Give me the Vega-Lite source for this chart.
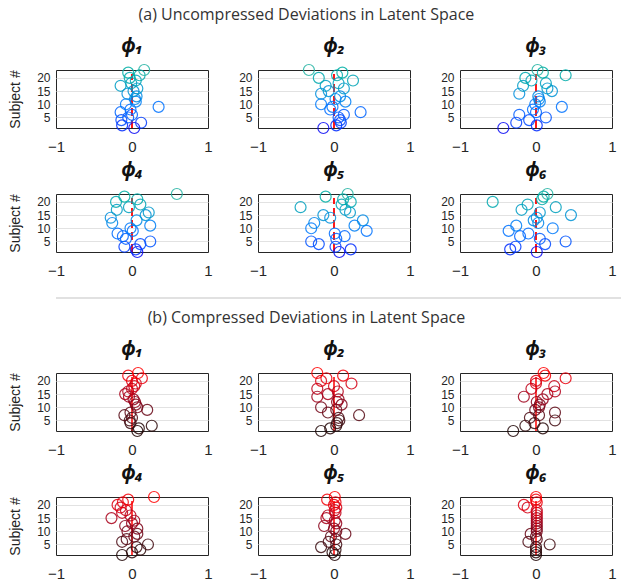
{
"$schema":"https://vega.github.io/schema/vega-lite/v6.json",
"background":"white",
"padding":{"left":8,"top":6,"right":0,"bottom":0},
"datasets":{"d":[
{"p":"a1","s":1,"x":0.03},{"p":"a1","s":2,"x":-0.13},{"p":"a1","s":3,"x":0.12},{"p":"a1","s":4,"x":-0.14},{"p":"a1","s":5,"x":-0.05},{"p":"a1","s":6,"x":0.0},{"p":"a1","s":7,"x":-0.15},{"p":"a1","s":8,"x":-0.02},{"p":"a1","s":9,"x":0.35},{"p":"a1","s":10,"x":-0.08},{"p":"a1","s":11,"x":0.05},{"p":"a1","s":12,"x":0.04},{"p":"a1","s":13,"x":0.06},{"p":"a1","s":14,"x":-0.06},{"p":"a1","s":15,"x":0.02},{"p":"a1","s":16,"x":0.07},{"p":"a1","s":17,"x":-0.15},{"p":"a1","s":18,"x":-0.01},{"p":"a1","s":19,"x":0.05},{"p":"a1","s":20,"x":-0.03},{"p":"a1","s":21,"x":0.10},{"p":"a1","s":22,"x":-0.05},{"p":"a1","s":23,"x":0.16},
{"p":"a2","s":1,"x":-0.14},{"p":"a2","s":2,"x":0.03},{"p":"a2","s":3,"x":0.09},{"p":"a2","s":4,"x":0.08},{"p":"a2","s":5,"x":0.06},{"p":"a2","s":6,"x":0.13},{"p":"a2","s":7,"x":0.35},{"p":"a2","s":8,"x":-0.05},{"p":"a2","s":9,"x":-0.02},{"p":"a2","s":10,"x":-0.17},{"p":"a2","s":11,"x":0.15},{"p":"a2","s":12,"x":0.02},{"p":"a2","s":13,"x":0.08},{"p":"a2","s":14,"x":-0.17},{"p":"a2","s":15,"x":-0.07},{"p":"a2","s":16,"x":0.13},{"p":"a2","s":17,"x":-0.11},{"p":"a2","s":18,"x":0.06},{"p":"a2","s":19,"x":0.25},{"p":"a2","s":20,"x":-0.2},{"p":"a2","s":21,"x":0.04},{"p":"a2","s":22,"x":0.11},{"p":"a2","s":23,"x":-0.33},
{"p":"a3","s":1,"x":-0.43},{"p":"a3","s":2,"x":0.01},{"p":"a3","s":3,"x":-0.26},{"p":"a3","s":4,"x":-0.09},{"p":"a3","s":5,"x":0.13},{"p":"a3","s":6,"x":-0.22},{"p":"a3","s":7,"x":0.0},{"p":"a3","s":8,"x":-0.04},{"p":"a3","s":9,"x":0.34},{"p":"a3","s":10,"x":-0.01},{"p":"a3","s":11,"x":0.05},{"p":"a3","s":12,"x":0.04},{"p":"a3","s":13,"x":0.03},{"p":"a3","s":14,"x":-0.22},{"p":"a3","s":15,"x":0.21},{"p":"a3","s":16,"x":0.15},{"p":"a3","s":17,"x":-0.17},{"p":"a3","s":18,"x":0.13},{"p":"a3","s":19,"x":-0.06},{"p":"a3","s":20,"x":-0.14},{"p":"a3","s":21,"x":0.39},{"p":"a3","s":22,"x":0.09},{"p":"a3","s":23,"x":0.02},
{"p":"a4","s":1,"x":0.07},{"p":"a4","s":2,"x":0.05},{"p":"a4","s":3,"x":-0.1},{"p":"a4","s":4,"x":0.11},{"p":"a4","s":5,"x":0.24},{"p":"a4","s":6,"x":-0.08},{"p":"a4","s":7,"x":-0.12},{"p":"a4","s":8,"x":-0.19},{"p":"a4","s":9,"x":0.01},{"p":"a4","s":10,"x":-0.02},{"p":"a4","s":11,"x":0.24},{"p":"a4","s":12,"x":-0.26},{"p":"a4","s":13,"x":0.06},{"p":"a4","s":14,"x":-0.28},{"p":"a4","s":15,"x":0.18},{"p":"a4","s":16,"x":0.22},{"p":"a4","s":17,"x":-0.2},{"p":"a4","s":18,"x":-0.04},{"p":"a4","s":19,"x":0.11},{"p":"a4","s":20,"x":-0.21},{"p":"a4","s":21,"x":0.07},{"p":"a4","s":22,"x":-0.1},{"p":"a4","s":23,"x":0.59},
{"p":"a5","s":1,"x":0.07},{"p":"a5","s":2,"x":0.22},{"p":"a5","s":3,"x":0.02},{"p":"a5","s":4,"x":-0.2},{"p":"a5","s":5,"x":-0.3},{"p":"a5","s":6,"x":0.03},{"p":"a5","s":7,"x":0.14},{"p":"a5","s":8,"x":0.01},{"p":"a5","s":9,"x":0.43},{"p":"a5","s":10,"x":-0.3},{"p":"a5","s":11,"x":0.27},{"p":"a5","s":12,"x":-0.26},{"p":"a5","s":13,"x":0.38},{"p":"a5","s":14,"x":-0.05},{"p":"a5","s":15,"x":-0.14},{"p":"a5","s":16,"x":0.21},{"p":"a5","s":17,"x":0.15},{"p":"a5","s":18,"x":-0.44},{"p":"a5","s":19,"x":0.1},{"p":"a5","s":20,"x":0.22},{"p":"a5","s":21,"x":0.12},{"p":"a5","s":22,"x":-0.11},{"p":"a5","s":23,"x":0.18},
{"p":"a6","s":1,"x":0.01},{"p":"a6","s":2,"x":-0.34},{"p":"a6","s":3,"x":-0.27},{"p":"a6","s":4,"x":0.12},{"p":"a6","s":5,"x":0.39},{"p":"a6","s":6,"x":0.05},{"p":"a6","s":7,"x":-0.21},{"p":"a6","s":8,"x":-0.1},{"p":"a6","s":9,"x":-0.36},{"p":"a6","s":10,"x":0.22},{"p":"a6","s":11,"x":-0.26},{"p":"a6","s":12,"x":0.03},{"p":"a6","s":13,"x":-0.03},{"p":"a6","s":14,"x":0.01},{"p":"a6","s":15,"x":0.46},{"p":"a6","s":16,"x":0.05},{"p":"a6","s":17,"x":-0.19},{"p":"a6","s":18,"x":0.26},{"p":"a6","s":19,"x":-0.11},{"p":"a6","s":20,"x":-0.57},{"p":"a6","s":21,"x":0.08},{"p":"a6","s":22,"x":0.1},{"p":"a6","s":23,"x":0.15},
{"p":"b1","s":1,"x":0.07},{"p":"b1","s":2,"x":0.09},{"p":"b1","s":3,"x":0.26},{"p":"b1","s":4,"x":-0.02},{"p":"b1","s":5,"x":-0.03},{"p":"b1","s":6,"x":0.0},{"p":"b1","s":7,"x":-0.1},{"p":"b1","s":8,"x":-0.02},{"p":"b1","s":9,"x":0.2},{"p":"b1","s":10,"x":0.07},{"p":"b1","s":11,"x":0.05},{"p":"b1","s":12,"x":0.04},{"p":"b1","s":13,"x":0.02},{"p":"b1","s":14,"x":-0.04},{"p":"b1","s":15,"x":-0.09},{"p":"b1","s":16,"x":-0.05},{"p":"b1","s":17,"x":0.0},{"p":"b1","s":18,"x":0.03},{"p":"b1","s":19,"x":0.05},{"p":"b1","s":20,"x":0.0},{"p":"b1","s":21,"x":0.13},{"p":"b1","s":22,"x":-0.05},{"p":"b1","s":23,"x":0.08},
{"p":"b2","s":1,"x":-0.17},{"p":"b2","s":2,"x":-0.05},{"p":"b2","s":3,"x":0.03},{"p":"b2","s":4,"x":0.04},{"p":"b2","s":5,"x":0.07},{"p":"b2","s":6,"x":0.06},{"p":"b2","s":7,"x":0.33},{"p":"b2","s":8,"x":-0.08},{"p":"b2","s":9,"x":0.03},{"p":"b2","s":10,"x":-0.17},{"p":"b2","s":11,"x":0.1},{"p":"b2","s":12,"x":0.04},{"p":"b2","s":13,"x":0.06},{"p":"b2","s":14,"x":-0.22},{"p":"b2","s":15,"x":-0.08},{"p":"b2","s":16,"x":0.05},{"p":"b2","s":17,"x":-0.22},{"p":"b2","s":18,"x":0.0},{"p":"b2","s":19,"x":0.23},{"p":"b2","s":20,"x":-0.17},{"p":"b2","s":21,"x":-0.1},{"p":"b2","s":22,"x":0.12},{"p":"b2","s":23,"x":-0.22},
{"p":"b3","s":1,"x":-0.3},{"p":"b3","s":2,"x":0.09},{"p":"b3","s":3,"x":-0.14},{"p":"b3","s":4,"x":-0.02},{"p":"b3","s":5,"x":0.25},{"p":"b3","s":6,"x":-0.08},{"p":"b3","s":7,"x":0.04},{"p":"b3","s":8,"x":0.25},{"p":"b3","s":9,"x":-0.01},{"p":"b3","s":10,"x":0.04},{"p":"b3","s":11,"x":0.05},{"p":"b3","s":12,"x":0.01},{"p":"b3","s":13,"x":0.09},{"p":"b3","s":14,"x":-0.16},{"p":"b3","s":15,"x":0.15},{"p":"b3","s":16,"x":0.25},{"p":"b3","s":17,"x":-0.06},{"p":"b3","s":18,"x":0.24},{"p":"b3","s":19,"x":0.0},{"p":"b3","s":20,"x":0.0},{"p":"b3","s":21,"x":0.39},{"p":"b3","s":22,"x":0.12},{"p":"b3","s":23,"x":0.1},
{"p":"b4","s":1,"x":-0.13},{"p":"b4","s":2,"x":0.0},{"p":"b4","s":3,"x":0.11},{"p":"b4","s":4,"x":0.06},{"p":"b4","s":5,"x":0.21},{"p":"b4","s":6,"x":-0.13},{"p":"b4","s":7,"x":-0.07},{"p":"b4","s":8,"x":0.03},{"p":"b4","s":9,"x":0.07},{"p":"b4","s":10,"x":-0.06},{"p":"b4","s":11,"x":0.07},{"p":"b4","s":12,"x":-0.09},{"p":"b4","s":13,"x":0.0},{"p":"b4","s":14,"x":0.03},{"p":"b4","s":15,"x":-0.27},{"p":"b4","s":16,"x":-0.02},{"p":"b4","s":17,"x":-0.13},{"p":"b4","s":18,"x":-0.08},{"p":"b4","s":19,"x":-0.15},{"p":"b4","s":20,"x":-0.19},{"p":"b4","s":21,"x":-0.12},{"p":"b4","s":22,"x":-0.05},{"p":"b4","s":23,"x":0.29},
{"p":"b5","s":1,"x":0.01},{"p":"b5","s":2,"x":-0.02},{"p":"b5","s":3,"x":0.02},{"p":"b5","s":4,"x":-0.17},{"p":"b5","s":5,"x":0.03},{"p":"b5","s":6,"x":-0.07},{"p":"b5","s":7,"x":0.02},{"p":"b5","s":8,"x":-0.04},{"p":"b5","s":9,"x":0.15},{"p":"b5","s":10,"x":0.03},{"p":"b5","s":11,"x":0.0},{"p":"b5","s":12,"x":-0.13},{"p":"b5","s":13,"x":0.03},{"p":"b5","s":14,"x":0.01},{"p":"b5","s":15,"x":-0.1},{"p":"b5","s":16,"x":-0.08},{"p":"b5","s":17,"x":0.02},{"p":"b5","s":18,"x":0.01},{"p":"b5","s":19,"x":0.03},{"p":"b5","s":20,"x":0.0},{"p":"b5","s":21,"x":0.02},{"p":"b5","s":22,"x":-0.09},{"p":"b5","s":23,"x":0.01},
{"p":"b6","s":1,"x":0.0},{"p":"b6","s":2,"x":0.0},{"p":"b6","s":3,"x":0.0},{"p":"b6","s":4,"x":0.0},{"p":"b6","s":5,"x":0.18},{"p":"b6","s":6,"x":-0.1},{"p":"b6","s":7,"x":0.01},{"p":"b6","s":8,"x":0.0},{"p":"b6","s":9,"x":-0.07},{"p":"b6","s":10,"x":0.01},{"p":"b6","s":11,"x":0.01},{"p":"b6","s":12,"x":0.01},{"p":"b6","s":13,"x":0.01},{"p":"b6","s":14,"x":0.01},{"p":"b6","s":15,"x":0.01},{"p":"b6","s":16,"x":0.01},{"p":"b6","s":17,"x":0.01},{"p":"b6","s":18,"x":0.01},{"p":"b6","s":19,"x":-0.11},{"p":"b6","s":20,"x":-0.16},{"p":"b6","s":21,"x":0.01},{"p":"b6","s":22,"x":0.0},{"p":"b6","s":23,"x":0.0}
]},
"data":{"name":"d"},
"config":{
 "view":{"stroke":"#262626","strokeWidth":1},
 "font":"Liberation Sans",
 "axis":{"labelFont":"Liberation Sans","labelColor":"#262626","ticks":false,"domain":false,"labelFlush":false,"labelOverlap":false,"titleFont":"Liberation Sans","titleFontSize":14,"titleFontWeight":"normal","titleColor":"#222222"},
 "axisX":{"grid":false,"labelPadding":11,"labelFontSize":15},
 "axisY":{"grid":true,"gridColor":"#e2e2e2","labelPadding":6,"titlePadding":14,"labelFontSize":12},
 "title":{"font":"Noto Sans","fontSize":19,"fontWeight":"bold","fontStyle":"italic","color":"#111111","offset":6}
},
"resolve":{"scale":{"color":"independent"}},
"spacing":10,
"vconcat":[
 {"title":{"text":"(a) Uncompressed Deviations in Latent Space","font":"Open Sans","fontSize":16,"fontWeight":"normal","fontStyle":"normal","color":"#333333","anchor":"middle","offset":14,"dx":-6},
  "columns":3,"bounds":"flush","spacing":{"row":66,"column":50},
  "concat":[
   {"width":152,"height":58,"title":"ϕ₁","transform":[{"filter":"datum.p==='a1'"}],"layer":[
     {"transform":[{"filter":"datum.s===1"}],"mark":{"type":"rule","color":"#ff0000","strokeWidth":1.8,"strokeDash":[8,4]},"encoding":{"x":{"datum":0,"type":"quantitative","axis":{"values":[-1,0,1],"format":".0f","title":null}},"y":{"datum":1,"type":"quantitative","axis":{"values":[5,10,15,20],"format":".0f","title":"Subject #"}},"y2":{"datum":21.5}}},
     {"mark":{"type":"point","filled":false,"size":120,"strokeWidth":1.2,"opacity":0.85},"encoding":{"x":{"field":"x","type":"quantitative","scale":{"domain":[-1,1],"nice":false,"zero":false},"axis":{"values":[-1,0,1],"format":".0f","title":null}},"y":{"field":"s","type":"quantitative","scale":{"domain":[1,23],"nice":false,"zero":false},"axis":{"values":[5,10,15,20],"format":".0f","title":"Subject #"}},"color":{"field":"s","type":"quantitative","scale":{"domain":[1,23],"range":["#0808f5","#22b3a3"]},"legend":null}}}]},
   {"width":152,"height":58,"title":"ϕ₂","transform":[{"filter":"datum.p==='a2'"}],"layer":[
     {"transform":[{"filter":"datum.s===1"}],"mark":{"type":"rule","color":"#ff0000","strokeWidth":1.8,"strokeDash":[8,4]},"encoding":{"x":{"datum":0,"type":"quantitative","axis":{"values":[-1,0,1],"format":".0f","title":null}},"y":{"datum":1,"type":"quantitative","axis":{"values":[5,10,15,20],"format":".0f","title":null}},"y2":{"datum":21.5}}},
     {"mark":{"type":"point","filled":false,"size":120,"strokeWidth":1.2,"opacity":0.85},"encoding":{"x":{"field":"x","type":"quantitative","scale":{"domain":[-1,1],"nice":false,"zero":false},"axis":{"values":[-1,0,1],"format":".0f","title":null}},"y":{"field":"s","type":"quantitative","scale":{"domain":[1,23],"nice":false,"zero":false},"axis":{"values":[5,10,15,20],"format":".0f","title":null}},"color":{"field":"s","type":"quantitative","scale":{"domain":[1,23],"range":["#0808f5","#22b3a3"]},"legend":null}}}]},
   {"width":152,"height":58,"title":"ϕ₃","transform":[{"filter":"datum.p==='a3'"}],"layer":[
     {"transform":[{"filter":"datum.s===1"}],"mark":{"type":"rule","color":"#ff0000","strokeWidth":1.8,"strokeDash":[8,4]},"encoding":{"x":{"datum":0,"type":"quantitative","axis":{"values":[-1,0,1],"format":".0f","title":null}},"y":{"datum":1,"type":"quantitative","axis":{"values":[5,10,15,20],"format":".0f","title":null}},"y2":{"datum":21.5}}},
     {"mark":{"type":"point","filled":false,"size":120,"strokeWidth":1.2,"opacity":0.85},"encoding":{"x":{"field":"x","type":"quantitative","scale":{"domain":[-1,1],"nice":false,"zero":false},"axis":{"values":[-1,0,1],"format":".0f","title":null}},"y":{"field":"s","type":"quantitative","scale":{"domain":[1,23],"nice":false,"zero":false},"axis":{"values":[5,10,15,20],"format":".0f","title":null}},"color":{"field":"s","type":"quantitative","scale":{"domain":[1,23],"range":["#0808f5","#22b3a3"]},"legend":null}}}]},
   {"width":152,"height":58,"title":"ϕ₄","transform":[{"filter":"datum.p==='a4'"}],"layer":[
     {"transform":[{"filter":"datum.s===1"}],"mark":{"type":"rule","color":"#ff0000","strokeWidth":1.8,"strokeDash":[8,4]},"encoding":{"x":{"datum":0,"type":"quantitative","axis":{"values":[-1,0,1],"format":".0f","title":null}},"y":{"datum":1,"type":"quantitative","axis":{"values":[5,10,15,20],"format":".0f","title":"Subject #"}},"y2":{"datum":21.5}}},
     {"mark":{"type":"point","filled":false,"size":120,"strokeWidth":1.2,"opacity":0.85},"encoding":{"x":{"field":"x","type":"quantitative","scale":{"domain":[-1,1],"nice":false,"zero":false},"axis":{"values":[-1,0,1],"format":".0f","title":null}},"y":{"field":"s","type":"quantitative","scale":{"domain":[1,23],"nice":false,"zero":false},"axis":{"values":[5,10,15,20],"format":".0f","title":"Subject #"}},"color":{"field":"s","type":"quantitative","scale":{"domain":[1,23],"range":["#0808f5","#22b3a3"]},"legend":null}}}]},
   {"width":152,"height":58,"title":"ϕ₅","transform":[{"filter":"datum.p==='a5'"}],"layer":[
     {"transform":[{"filter":"datum.s===1"}],"mark":{"type":"rule","color":"#ff0000","strokeWidth":1.8,"strokeDash":[8,4]},"encoding":{"x":{"datum":0,"type":"quantitative","axis":{"values":[-1,0,1],"format":".0f","title":null}},"y":{"datum":1,"type":"quantitative","axis":{"values":[5,10,15,20],"format":".0f","title":null}},"y2":{"datum":21.5}}},
     {"mark":{"type":"point","filled":false,"size":120,"strokeWidth":1.2,"opacity":0.85},"encoding":{"x":{"field":"x","type":"quantitative","scale":{"domain":[-1,1],"nice":false,"zero":false},"axis":{"values":[-1,0,1],"format":".0f","title":null}},"y":{"field":"s","type":"quantitative","scale":{"domain":[1,23],"nice":false,"zero":false},"axis":{"values":[5,10,15,20],"format":".0f","title":null}},"color":{"field":"s","type":"quantitative","scale":{"domain":[1,23],"range":["#0808f5","#22b3a3"]},"legend":null}}}]},
   {"width":152,"height":58,"title":"ϕ₆","transform":[{"filter":"datum.p==='a6'"}],"layer":[
     {"transform":[{"filter":"datum.s===1"}],"mark":{"type":"rule","color":"#ff0000","strokeWidth":1.8,"strokeDash":[8,4]},"encoding":{"x":{"datum":0,"type":"quantitative","axis":{"values":[-1,0,1],"format":".0f","title":null}},"y":{"datum":1,"type":"quantitative","axis":{"values":[5,10,15,20],"format":".0f","title":null}},"y2":{"datum":21.5}}},
     {"mark":{"type":"point","filled":false,"size":120,"strokeWidth":1.2,"opacity":0.85},"encoding":{"x":{"field":"x","type":"quantitative","scale":{"domain":[-1,1],"nice":false,"zero":false},"axis":{"values":[-1,0,1],"format":".0f","title":null}},"y":{"field":"s","type":"quantitative","scale":{"domain":[1,23],"nice":false,"zero":false},"axis":{"values":[5,10,15,20],"format":".0f","title":null}},"color":{"field":"s","type":"quantitative","scale":{"domain":[1,23],"range":["#0808f5","#22b3a3"]},"legend":null}}}]}
  ]},
 {"width":611,"height":9,"view":{"stroke":null},"transform":[{"filter":"datum.p==='a1' && datum.s===1"}],"mark":{"type":"rule","color":"#c4c4c4","strokeWidth":1.2},"encoding":{"x":{"datum":0,"type":"quantitative","scale":{"domain":[0,1]},"axis":null},"x2":{"datum":1},"y":{"datum":0,"type":"quantitative","scale":{"domain":[0,1]},"axis":null}}},
 {"title":{"text":"(b) Compressed Deviations in Latent Space","font":"Open Sans","fontSize":16,"fontWeight":"normal","fontStyle":"normal","color":"#333333","anchor":"middle","offset":14,"dx":-6},
  "columns":3,"bounds":"flush","spacing":{"row":66,"column":50},
  "concat":[
   {"width":152,"height":58,"title":"ϕ₁","transform":[{"filter":"datum.p==='b1'"}],"layer":[
     {"transform":[{"filter":"datum.s===1"}],"mark":{"type":"rule","color":"#ff0000","strokeWidth":1.5},"encoding":{"x":{"datum":0,"type":"quantitative","axis":{"values":[-1,0,1],"format":".0f","title":null}},"y":{"datum":1,"type":"quantitative","axis":{"values":[5,10,15,20],"format":".0f","title":"Subject #"}},"y2":{"datum":21.5}}},
     {"mark":{"type":"point","filled":false,"size":120,"strokeWidth":1.2,"opacity":0.85},"encoding":{"x":{"field":"x","type":"quantitative","scale":{"domain":[-1,1],"nice":false,"zero":false},"axis":{"values":[-1,0,1],"format":".0f","title":null}},"y":{"field":"s","type":"quantitative","scale":{"domain":[1,23],"nice":false,"zero":false},"axis":{"values":[5,10,15,20],"format":".0f","title":"Subject #"}},"color":{"field":"s","type":"quantitative","scale":{"domain":[1,23],"range":["#1e0303","#ff0000"]},"legend":null}}}]},
   {"width":152,"height":58,"title":"ϕ₂","transform":[{"filter":"datum.p==='b2'"}],"layer":[
     {"transform":[{"filter":"datum.s===1"}],"mark":{"type":"rule","color":"#ff0000","strokeWidth":1.5},"encoding":{"x":{"datum":0,"type":"quantitative","axis":{"values":[-1,0,1],"format":".0f","title":null}},"y":{"datum":1,"type":"quantitative","axis":{"values":[5,10,15,20],"format":".0f","title":null}},"y2":{"datum":21.5}}},
     {"mark":{"type":"point","filled":false,"size":120,"strokeWidth":1.2,"opacity":0.85},"encoding":{"x":{"field":"x","type":"quantitative","scale":{"domain":[-1,1],"nice":false,"zero":false},"axis":{"values":[-1,0,1],"format":".0f","title":null}},"y":{"field":"s","type":"quantitative","scale":{"domain":[1,23],"nice":false,"zero":false},"axis":{"values":[5,10,15,20],"format":".0f","title":null}},"color":{"field":"s","type":"quantitative","scale":{"domain":[1,23],"range":["#1e0303","#ff0000"]},"legend":null}}}]},
   {"width":152,"height":58,"title":"ϕ₃","transform":[{"filter":"datum.p==='b3'"}],"layer":[
     {"transform":[{"filter":"datum.s===1"}],"mark":{"type":"rule","color":"#ff0000","strokeWidth":1.5},"encoding":{"x":{"datum":0,"type":"quantitative","axis":{"values":[-1,0,1],"format":".0f","title":null}},"y":{"datum":1,"type":"quantitative","axis":{"values":[5,10,15,20],"format":".0f","title":null}},"y2":{"datum":21.5}}},
     {"mark":{"type":"point","filled":false,"size":120,"strokeWidth":1.2,"opacity":0.85},"encoding":{"x":{"field":"x","type":"quantitative","scale":{"domain":[-1,1],"nice":false,"zero":false},"axis":{"values":[-1,0,1],"format":".0f","title":null}},"y":{"field":"s","type":"quantitative","scale":{"domain":[1,23],"nice":false,"zero":false},"axis":{"values":[5,10,15,20],"format":".0f","title":null}},"color":{"field":"s","type":"quantitative","scale":{"domain":[1,23],"range":["#1e0303","#ff0000"]},"legend":null}}}]},
   {"width":152,"height":58,"title":"ϕ₄","transform":[{"filter":"datum.p==='b4'"}],"layer":[
     {"transform":[{"filter":"datum.s===1"}],"mark":{"type":"rule","color":"#ff0000","strokeWidth":1.5},"encoding":{"x":{"datum":0,"type":"quantitative","axis":{"values":[-1,0,1],"format":".0f","title":null}},"y":{"datum":1,"type":"quantitative","axis":{"values":[5,10,15,20],"format":".0f","title":"Subject #"}},"y2":{"datum":21.5}}},
     {"mark":{"type":"point","filled":false,"size":120,"strokeWidth":1.2,"opacity":0.85},"encoding":{"x":{"field":"x","type":"quantitative","scale":{"domain":[-1,1],"nice":false,"zero":false},"axis":{"values":[-1,0,1],"format":".0f","title":null}},"y":{"field":"s","type":"quantitative","scale":{"domain":[1,23],"nice":false,"zero":false},"axis":{"values":[5,10,15,20],"format":".0f","title":"Subject #"}},"color":{"field":"s","type":"quantitative","scale":{"domain":[1,23],"range":["#1e0303","#ff0000"]},"legend":null}}}]},
   {"width":152,"height":58,"title":"ϕ₅","transform":[{"filter":"datum.p==='b5'"}],"layer":[
     {"transform":[{"filter":"datum.s===1"}],"mark":{"type":"rule","color":"#ff0000","strokeWidth":1.5},"encoding":{"x":{"datum":0,"type":"quantitative","axis":{"values":[-1,0,1],"format":".0f","title":null}},"y":{"datum":1,"type":"quantitative","axis":{"values":[5,10,15,20],"format":".0f","title":null}},"y2":{"datum":21.5}}},
     {"mark":{"type":"point","filled":false,"size":120,"strokeWidth":1.2,"opacity":0.85},"encoding":{"x":{"field":"x","type":"quantitative","scale":{"domain":[-1,1],"nice":false,"zero":false},"axis":{"values":[-1,0,1],"format":".0f","title":null}},"y":{"field":"s","type":"quantitative","scale":{"domain":[1,23],"nice":false,"zero":false},"axis":{"values":[5,10,15,20],"format":".0f","title":null}},"color":{"field":"s","type":"quantitative","scale":{"domain":[1,23],"range":["#1e0303","#ff0000"]},"legend":null}}}]},
   {"width":152,"height":58,"title":"ϕ₆","transform":[{"filter":"datum.p==='b6'"}],"layer":[
     {"transform":[{"filter":"datum.s===1"}],"mark":{"type":"rule","color":"#ff0000","strokeWidth":1.5},"encoding":{"x":{"datum":0,"type":"quantitative","axis":{"values":[-1,0,1],"format":".0f","title":null}},"y":{"datum":1,"type":"quantitative","axis":{"values":[5,10,15,20],"format":".0f","title":null}},"y2":{"datum":21.5}}},
     {"mark":{"type":"point","filled":false,"size":120,"strokeWidth":1.2,"opacity":0.85},"encoding":{"x":{"field":"x","type":"quantitative","scale":{"domain":[-1,1],"nice":false,"zero":false},"axis":{"values":[-1,0,1],"format":".0f","title":null}},"y":{"field":"s","type":"quantitative","scale":{"domain":[1,23],"nice":false,"zero":false},"axis":{"values":[5,10,15,20],"format":".0f","title":null}},"color":{"field":"s","type":"quantitative","scale":{"domain":[1,23],"range":["#1e0303","#ff0000"]},"legend":null}}}]}
  ]}
]
}
